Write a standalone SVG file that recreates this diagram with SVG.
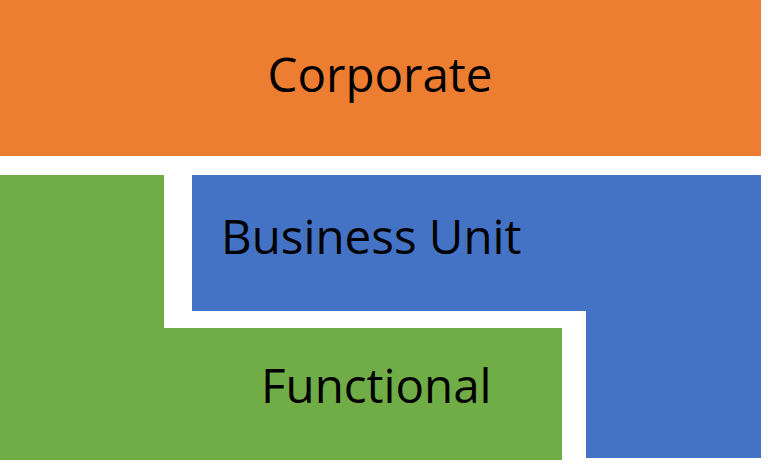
<svg xmlns="http://www.w3.org/2000/svg" width="768" height="465" viewBox="0 0 768 465">
<style>
text{font-family:"Open Sans","Liberation Sans",sans-serif;font-size:47.5px;fill:#000}
</style>
<rect width="768" height="465" fill="#fff"/>
<g id="corporate">
<rect x="0" y="0" width="761" height="156" fill="#ED7D31"/>
<text x="380" y="92" text-anchor="middle">Corporate</text>
</g>
<g id="business-unit">
<path d="M192,175 H761 V458 H586 V311 H192 Z" fill="#4472C4"/>
<text x="221" y="254">Business Unit</text>
</g>
<g id="functional">
<path d="M0,175 H164 V328 H562 V460 H0 Z" fill="#70AD47"/>
<text x="261" y="403">Functional</text>
</g>
<g id="connectors"></g>
</svg>
